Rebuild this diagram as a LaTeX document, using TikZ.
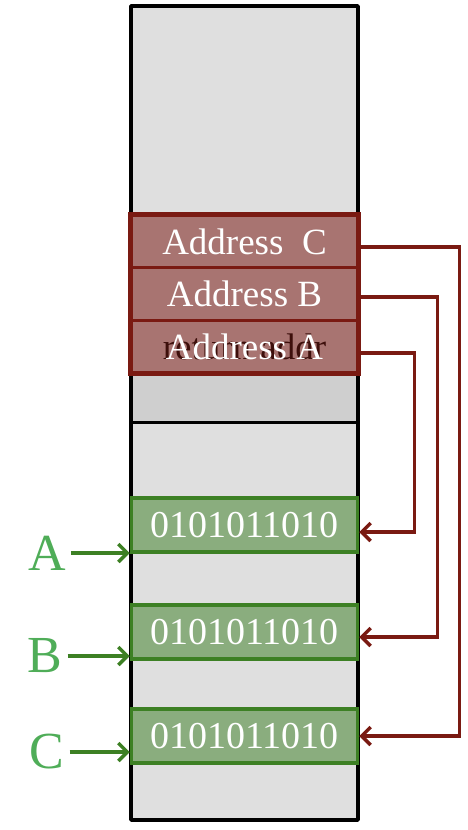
\documentclass[tikz,border=0pt]{standalone}
\usepackage{fontspec}
\setmainfont{Liberation Serif}
\usetikzlibrary{arrows.meta}
\definecolor{colgray}{HTML}{DFDFDF}
\definecolor{darkgray}{HTML}{CFCFCF}
\definecolor{redfill}{HTML}{A87471}
\definecolor{redline}{HTML}{7A1A12}
\definecolor{greenfill}{HTML}{8AAD7E}
\definecolor{greenline}{HTML}{3D8024}
\definecolor{lblgreen}{HTML}{4FAD58}
\definecolor{rettext}{HTML}{3D0F0B}
\tikzset{
  addrbox/.style={draw=redline, fill=redfill, line width=3pt, minimum width=226pt, minimum height=52.5pt, inner sep=0pt, text=white, font=\fontsize{37}{39}\selectfont},
  databox/.style={draw=greenline, fill=greenfill, line width=3.5pt, minimum width=226pt, minimum height=54pt, inner sep=0pt, text=white, font=\fontsize{38}{40}\selectfont},
  lbl/.style={text=lblgreen, font=\fontsize{52}{54}\selectfont, inner sep=5pt},
  garrow/.style={draw=greenline, line width=3.5pt, -{Straight Barb[length=9pt,width=18pt]}},
  rarrow/.style={draw=redline, line width=3.5pt, -{Straight Barb[length=9pt,width=18pt]}},
}
\begin{document}
\begin{tikzpicture}[x=1pt,y=-1pt]
\useasboundingbox (0,0) rectangle (468,830);
% column
\fill[colgray] (131,6) rectangle (358,820);
\fill[darkgray] (131,372) rectangle (358,422);
\draw[line width=3pt] (131,422) -- (358,422);
\draw[line width=3.5pt, line join=round] (131,6) rectangle (358,820);
% address stack
\node[addrbox] (ac) at (244.5,241.5) {Address\ \ C};
\node[addrbox] (ab) at (244.5,294) {Address B};
\node[addrbox] (aa) at (244.5,346.5) {};
\node[text=rettext, font=\fontsize{37}{39}\selectfont] (ret) at (aa.center) {return addr};
\node[text=white, font=\fontsize{37}{39}\selectfont] (aat) at (aa.center) {Address A};
\draw[redline, line width=4pt] (ac.north west) rectangle (aa.south east);
% data boxes
\node[databox] (g1) at (244.5,525) {0101011010};
\node[databox] (g2) at (244.5,632) {0101011010};
\node[databox] (g3) at (244.5,736) {0101011010};
% labels
\node[lbl] (la) at (47,553) {A};
\node[lbl] (lb) at (45,656) {B};
\node[lbl] (lc) at (47,752) {C};
\draw[garrow] (la.east) -- (la.east -| g1.west);
\draw[garrow] (lb.east) -- (lb.east -| g2.west);
\draw[garrow] (lc.east) -- (lc.east -| g3.west);
% pointers
\draw[rarrow] ([yshift=-6.5pt]aa.east) -| ([xshift=55pt,yshift=-7pt]g1.east) -- ([yshift=-7pt]g1.east);
\draw[rarrow] ([yshift=-3pt]ab.east) -| ([xshift=78pt,yshift=-5pt]g2.east) -- ([yshift=-5pt]g2.east);
\draw[rarrow] ([yshift=-5.5pt]ac.east) -| ([xshift=100pt]g3.east) -- (g3.east);
\end{tikzpicture}
\end{document}
